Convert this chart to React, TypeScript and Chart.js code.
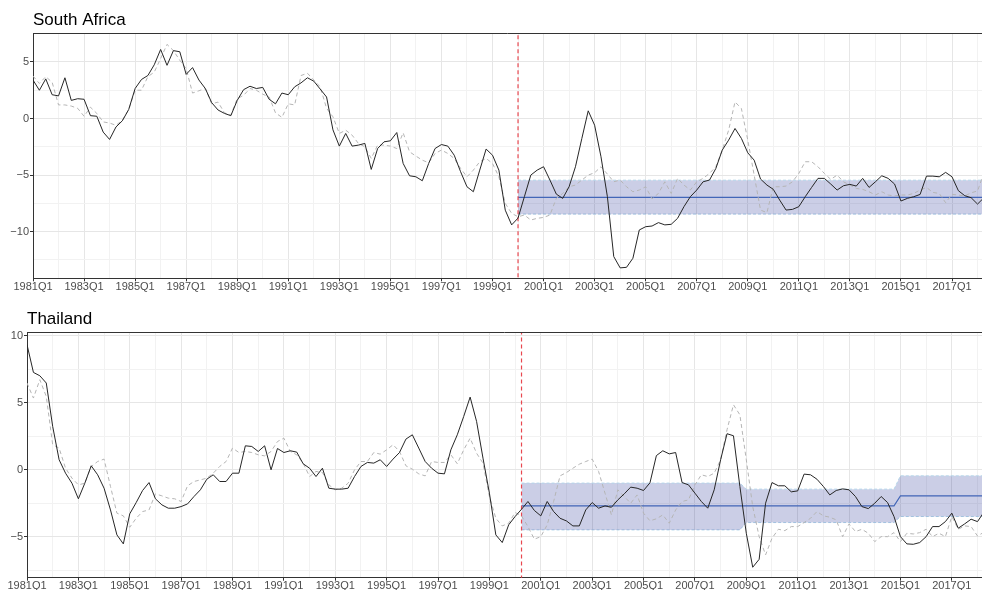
import React, { useEffect, useRef } from 'react';
import { Chart, registerables } from 'chart.js';

Chart.register(...registerables);

// ---------- categories ----------
const startYear = 1981;
const quarters: string[] = Array.from({ length: 150 }, (_, i) => `${startYear + Math.floor(i / 4)}Q${(i % 4) + 1}`);

// ---------- South Africa ----------
const saActual = [
  3.4, 2.5, 3.5, 2.1, 2.0, 3.6, 1.6, 1.75, 1.7, 0.25,
  0.2, -1.2, -1.85, -0.75, -0.2, 0.8, 2.65, 3.45, 3.8, 4.75,
  6.1, 4.7, 6.0, 5.9, 3.9, 4.5, 3.4, 2.65, 1.4, 0.75,
  0.45, 0.25, 1.6, 2.55, 2.85, 2.65, 2.75, 1.7, 1.3, 2.25,
  2.1, 2.8, 3.15, 3.6, 3.3, 2.6, 1.9, -1.0, -2.44, -1.32,
  -2.44, -2.35, -2.2, -4.5, -2.65, -2.06, -1.97, -1.24, -3.97, -5.06,
  -5.15, -5.5, -3.97, -2.65, -2.3, -2.44, -3.24, -4.7, -6.03, -6.47,
  -4.56, -2.7, -3.24, -4.56, -8.1, -9.4, -8.8, -6.9, -5.0, -4.56,
  -4.26, -5.44, -6.68, -7.06, -6.03, -4.26, -1.76, 0.68, -0.59, -3.38,
  -6.9, -12.2, -13.2, -13.15, -12.35, -9.85, -9.56, -9.5, -9.2, -9.4,
  -9.35, -8.82, -7.79, -6.91, -6.32, -5.59, -5.44, -4.41, -2.79, -1.91,
  -0.88, -1.76, -3.03, -3.68, -5.35, -5.88, -6.26, -7.21, -8.09, -8.03,
  -7.79, -6.91, -6.09, -5.29, -5.29, -5.79, -6.32, -5.94, -5.82, -5.97,
  -5.29, -6.09, -5.59, -5.06, -5.29, -5.79, -7.29, -7.06, -6.91, -6.71,
  -5.09, -5.09, -5.15, -4.76, -5.15, -6.38, -6.82, -7.0, -7.56, -7.0,
];
const saFitted = [
  3.75, 3.1, 3.7, 3.2, 1.2, 1.2, 1.1, 0.9, 0.2, 1.0,
  0.45, -0.3, -0.4, -0.6, -0.15, 0.8, 2.5, 2.5, 3.7, 4.1,
  5.3, 6.55, 6.0, 5.15, 4.4, 2.25, 2.45, 2.65, 1.3, 1.45,
  0.5, 0.3, 1.75, 2.05, 2.65, 2.5, 2.15, 1.9, 0.5, 0.1,
  1.3, 1.2, 3.8, 4.0, 3.4, 2.8, 0.9, 0.15, -1.32, -1.03,
  -1.47, -2.21, -2.5, -3.53, -2.35, -2.35, -2.44, -2.65, -1.26, -2.94,
  -3.32, -3.68, -3.91, -3.09, -2.79, -3.09, -3.53, -4.41, -5.15, -4.56,
  -3.82, -3.53, -3.97, -5.15, -7.5, -8.38, -8.68, -8.53, -8.97, -8.82,
  -8.74, -8.53, -7.06, -6.62, -6.03, -5.88, -5.44, -5.0, -4.79, -4.26,
  -4.91, -5.59, -5.44, -6.03, -6.47, -6.32, -6.03, -7.1, -6.62, -5.59,
  -6.62, -5.29, -5.88, -6.32, -5.59, -5.29, -4.85, -4.26, -2.79, -1.03,
  1.47, 0.88, -1.91, -5.0, -8.09, -8.32, -6.03, -6.03, -5.97, -5.59,
  -4.85, -3.82, -3.82, -4.26, -4.85, -5.38, -5.0, -5.59, -5.88, -6.18,
  -6.26, -6.47, -6.76, -6.47, -6.76, -6.85, -6.76, -6.76, -6.62, -6.32,
  -6.09, -6.53, -6.62, -7.44, -6.71, -6.76, -6.85, -6.56, -6.41, -4.8,
];
const saBreak = 76;
const saBandStarts = [76];
const saBandLower = [-8.45];
const saBandMid = [-6.97];
const saBandUpper = [-5.45];
const saYTicks = [-12.5, -10, -7.5, -5, -2.5, 0, 2.5, 5, 7.5];

// ---------- Thailand ----------
const thActual = [
  9.33, 7.26, 7.01, 6.47, 3.23, 0.75, -0.25, -1.0, -2.16, -1.0,
  0.3, -0.37, -1.37, -2.99, -4.85, -5.52, -3.28, -2.44, -1.54, -0.95,
  -2.16, -2.61, -2.86, -2.86, -2.74, -2.54, -1.99, -1.49, -0.7, -0.37,
  -0.87, -0.87, -0.25, -0.25, 1.79, 1.74, 1.37, 1.79, 0.0, 1.59,
  1.29, 1.42, 1.32, 0.45, 0.12, -0.5, 0.12, -1.37, -1.44, -1.44,
  -1.37, -0.5, 0.25, 0.55, 0.5, 0.75, 0.25, 0.8, 1.29, 2.29,
  2.61, 1.62, 0.62, 0.12, -0.25, -0.3, 1.49, 2.61, 3.98, 5.42,
  3.61, 0.87, -1.74, -4.85, -5.42, -4.1, -3.48, -2.94, -2.36, -3.03,
  -3.43, -2.36, -3.11, -3.61, -3.81, -4.18, -4.18, -2.99, -2.44, -2.86,
  -2.69, -2.79, -2.24, -1.79, -1.29, -1.37, -1.54, -0.97, 1.06, 1.42,
  1.19, 1.29, -0.95, -1.12, -1.74, -2.36, -2.86, -1.49, 0.75, 2.69,
  2.54, -1.24, -4.73, -7.26, -6.67, -2.49, -0.95, -1.19, -1.19, -1.64,
  -1.57, -0.32, -0.37, -0.7, -1.24, -1.87, -1.54, -1.42, -1.49, -1.99,
  -2.74, -2.89, -2.49, -1.99, -2.44, -3.48, -4.98, -5.52, -5.55, -5.42,
  -4.98, -4.23, -4.23, -3.86, -3.23, -4.35, -4.03, -3.68, -3.86, -3.15,
];
const thFitted = [
  6.47, 5.35, 6.72, 5.47, 1.87, 1.62, 0.12, -0.62, -1.12, -1.0,
  0.25, 0.62, 0.8, -1.24, -3.23, -3.43, -4.28, -3.61, -3.11, -2.99,
  -1.79, -1.94, -2.11, -2.16, -2.36, -1.19, -0.87, -0.75, -0.62, -0.25,
  0.25, 0.62, 1.62, 1.29, 1.37, 1.29, 1.12, 1.04, 1.37, 2.11,
  2.36, 1.37, 1.12, 0.5, -0.5, -0.12, -0.2, -1.12, -1.49, -1.37,
  -1.0, 0.0, 0.62, 0.62, 1.29, 1.17, 1.49, 1.87, 1.37, 0.3,
  0.05, -0.3, -0.45, 0.62, 0.55, 0.55, 1.12, 0.45, 1.49, 2.36,
  1.24, 0.5, -1.99, -3.61, -4.18, -3.98, -3.18, -3.43, -4.23, -5.17,
  -4.98, -4.1, -2.36, -0.45, -0.2, 0.12, 0.42, 0.62, 0.8, -0.12,
  -1.74, -3.36, -1.49, -1.99, -2.49, -1.87, -3.23, -3.8, -3.65, -3.36,
  -3.98, -2.99, -2.36, -2.24, -1.12, -0.37, -0.5, -0.25, 0.75, 2.99,
  4.85, 4.1, 0.75, -2.74, -4.98, -6.34, -5.1, -4.43, -4.53, -4.23,
  -4.23, -3.93, -3.61, -3.11, -3.43, -3.53, -3.73, -4.98, -4.03, -4.6,
  -4.43, -4.73, -5.35, -4.98, -4.98, -4.68, -5.35, -4.73, -4.78, -4.68,
  -4.43, -4.98, -4.73, -4.98, -3.48, -4.43, -4.18, -4.23, -4.93, -4.65,
];
const thBreak = 77;
const thBandStarts = [77, 112, 136];
const thBandLower = [-4.48, -3.93, -3.48];
const thBandMid = [-2.69, -2.69, -1.94];
const thBandUpper = [-0.99, -1.44, -0.45];
const thYTicks = [-7.5, -5, -2.5, 0, 2.5, 5, 7.5, 10];

// x ticks: labelled every 2 years, minor every year
const xMajorStep = 8;
const xMinorStep = 4;
const lastX = 150;

type Pt = { x: number; y: number };

function toPoints(vals: number[]): Pt[] {
  return vals.map((v, i) => ({ x: i, y: v }));
}

function bandPoints(starts: number[], vals: number[]): Pt[] {
  const pts: Pt[] = [];
  starts.forEach((s, k) => {
    const e = k < starts.length - 1 ? starts[k + 1] - 1 : lastX;
    pts.push({ x: s, y: vals[k] });
    pts.push({ x: e, y: vals[k] });
  });
  return pts;
}

interface PanelSpec {
  title: string;
  actual: number[];
  fitted: number[];
  brk: number;
  starts: number[];
  lower: number[];
  mid: number[];
  upper: number[];
  yMin: number;
  yMax: number;
  yTicks: number[];
  axisWidth: number;
  xAxisHeight: number;
  titlePadTop: number;
  titlePadBottom: number;
}

const FONT = "'Liberation Sans', Arial, Helvetica, sans-serif";

const topBorder = {
  id: 'topBorder',
  afterDraw(chart: any) {
    const { ctx, chartArea } = chart;
    ctx.save();
    ctx.strokeStyle = '#333333';
    ctx.lineWidth = 1;
    const y = Math.round(chartArea.top) + 0.5;
    ctx.beginPath();
    ctx.moveTo(chartArea.left, y);
    ctx.lineTo(chartArea.right, y);
    ctx.stroke();
    ctx.restore();
  },
};

function makeConfig(p: PanelSpec): any {
  const xTicks: number[] = [];
  for (let v = 0; v <= 148; v += xMinorStep) xTicks.push(v);
  return {
    type: 'line',
    data: {
      datasets: [
        {
          label: 'actual',
          data: toPoints(p.actual),
          borderColor: '#262626',
          borderWidth: 1,
          pointRadius: 0,
          tension: 0,
          fill: false,
        },
        {
          label: 'fitted',
          data: toPoints(p.fitted),
          borderColor: '#b5b5b5',
          borderWidth: 1,
          borderDash: [4, 3],
          pointRadius: 0,
          tension: 0,
          fill: false,
        },
        {
          label: 'break',
          data: [
            { x: p.brk, y: -100 },
            { x: p.brk, y: 100 },
          ],
          borderColor: '#e8474f',
          borderWidth: 1.2,
          borderDash: [4, 3],
          pointRadius: 0,
          fill: false,
        },
        {
          label: 'mean',
          data: bandPoints(p.starts, p.mid),
          borderColor: '#4266b8',
          borderWidth: 1.1,
          pointRadius: 0,
          tension: 0,
          fill: false,
        },
        {
          label: 'upper',
          data: bandPoints(p.starts, p.upper),
          borderColor: '#b4d6ea',
          borderWidth: 1,
          borderDash: [3, 2],
          backgroundColor: 'rgba(20, 30, 140, 0.22)',
          pointRadius: 0,
          tension: 0,
          fill: '+1',
        },
        {
          label: 'lower',
          data: bandPoints(p.starts, p.lower),
          borderColor: '#b4d6ea',
          borderWidth: 1,
          borderDash: [3, 2],
          pointRadius: 0,
          tension: 0,
          fill: false,
        },
      ],
    },
    options: {
      animation: false,
      responsive: false,
      devicePixelRatio: 1,
      layout: { padding: 0 },
      plugins: {
        legend: { display: false },
        tooltip: { enabled: false },
        title: {
          display: true,
          text: p.title,
          align: 'start',
          fullSize: false,
          color: '#000000',
          font: { family: FONT, size: 17, weight: 'normal', lineHeight: 1.2 },
          padding: { top: p.titlePadTop, bottom: p.titlePadBottom },
        },
      },
      scales: {
        x: {
          type: 'linear',
          min: 0,
          max: 148.7,
          afterBuildTicks: (scale: any) => {
            scale.ticks = xTicks.map((v) => ({ value: v }));
          },
          afterFit: (scale: any) => {
            scale.height = p.xAxisHeight;
            scale.paddingLeft = 0;
            scale.paddingRight = 0;
          },
          ticks: {
            autoSkip: false,
            maxRotation: 0,
            minRotation: 0,
            padding: -1,
            color: '#4d4d4d',
            font: { family: FONT, size: 11 },
            callback: (value: number) => (value % xMajorStep === 0 ? quarters[value] : ''),
          },
          grid: {
            color: (ctx: any) => (ctx.tick && ctx.tick.value % xMajorStep === 0 ? '#e6e6e6' : '#f2f2f2'),
            lineWidth: 1,
            tickLength: 3,
            tickColor: (ctx: any) => (ctx.tick && ctx.tick.value % xMajorStep === 0 ? '#333333' : 'rgba(0,0,0,0)'),
          },
          border: { display: true, color: '#333333', width: 1 },
        },
        y: {
          type: 'linear',
          min: p.yMin,
          max: p.yMax,
          afterBuildTicks: (scale: any) => {
            scale.ticks = p.yTicks.map((v) => ({ value: v }));
          },
          afterFit: (scale: any) => {
            scale.width = p.axisWidth;
            scale.paddingTop = 0;
            scale.paddingBottom = 0;
          },
          ticks: {
            padding: 1,
            color: '#4d4d4d',
            font: { family: FONT, size: 11 },
            callback: (value: number) =>
              value % 5 === 0 ? (value < 0 ? '\u2212' + Math.abs(value) : String(value)) : '',
          },
          grid: {
            color: (ctx: any) => (ctx.tick && ctx.tick.value % 5 === 0 ? '#e6e6e6' : '#f2f2f2'),
            lineWidth: 1,
            tickLength: 3,
            tickColor: (ctx: any) => (ctx.tick && ctx.tick.value % 5 === 0 ? '#333333' : 'rgba(0,0,0,0)'),
          },
          border: { display: true, color: '#333333', width: 1 },
        },
      },
    },
    plugins: [topBorder],
  };
}

const panels: PanelSpec[] = [
  {
    title: 'South Africa',
    actual: saActual,
    fitted: saFitted,
    brk: saBreak,
    starts: saBandStarts,
    lower: saBandLower,
    mid: saBandMid,
    upper: saBandUpper,
    yMin: -14.12,
    yMax: 7.53,
    yTicks: saYTicks,
    axisWidth: 33,
    xAxisHeight: 16.7,
    titlePadTop: 10,
    titlePadBottom: 2.9,
  },
  {
    title: 'Thailand',
    actual: thActual,
    fitted: thFitted,
    brk: thBreak,
    starts: thBandStarts,
    lower: thBandLower,
    mid: thBandMid,
    upper: thBandUpper,
    yMin: -8.04,
    yMax: 10.25,
    yTicks: thYTicks,
    axisWidth: 27,
    xAxisHeight: 12.3,
    titlePadTop: 14.3,
    titlePadBottom: 2.6,
  },
];

function Panel({ spec, top }: { spec: PanelSpec; top: number }) {
  const ref = useRef<HTMLCanvasElement>(null);
  useEffect(() => {
    if (!ref.current) return;
    const chart = new Chart(ref.current, makeConfig(spec));
    return () => chart.destroy();
  }, [spec]);
  return (
    <div style={{ position: 'absolute', left: 0, top, width: 982, height: 295 }}>
      <canvas ref={ref} width={982} height={295} style={{ width: 982, height: 295, display: 'block' }} />
    </div>
  );
}

export default function App() {
  return (
    <div style={{ position: 'fixed', left: 0, top: 0, width: 982, height: 590, background: '#ffffff', overflow: 'hidden' }}>
      <Panel spec={panels[0]} top={0} />
      <Panel spec={panels[1]} top={295} />
    </div>
  );
}
